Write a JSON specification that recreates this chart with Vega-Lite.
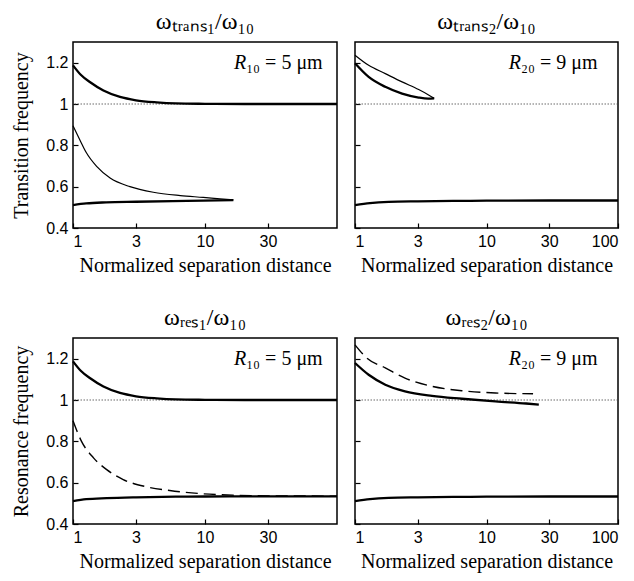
{
  "$schema": "https://vega.github.io/schema/vega-lite/v6.json",
  "background": "white",
  "autosize": {"type": "none"},
  "padding": {"left": 73, "top": 42, "right": 561, "bottom": 539},
  "bounds": "flush",
  "columns": 2,
  "spacing": {"row": 110, "column": 18},
  "config": {
    "view": {"stroke": "black", "strokeWidth": 1.5},
    "axis": {"domain": false, "grid": false, "labelFont": "Liberation Sans", "labelFontSize": 16, "labelColor": "black", "titleFont": "Liberation Serif", "titleFontSize": 20, "titleFontWeight": "normal", "titleColor": "black", "tickColor": "black", "tickSize": -5, "tickWidth": 1.2, "labelPadding": 10},
    "axisX": {"titlePadding": 6, "titleFont": "Liberation Serif"},
    "axisY": {"titlePadding": 14, "titleFont": "Liberation Serif"},
    "title": {"font": "Liberation Serif", "fontSize": 24, "fontWeight": "normal", "color": "black", "offset": 8},
    "line": {"color": "black"}
  },
  "datasets": {
    "p1": [
      {"x": 1, "y": 1.187, "s": "u"}, {"x": 1.15, "y": 1.14, "s": "u"}, {"x": 1.35, "y": 1.105, "s": "u"}, {"x": 1.7, "y": 1.065, "s": "u"}, {"x": 2.27, "y": 1.034, "s": "u"}, {"x": 3, "y": 1.018, "s": "u"}, {"x": 4.3, "y": 1.008, "s": "u"}, {"x": 6, "y": 1.003, "s": "u"}, {"x": 10, "y": 1.001, "s": "u"}, {"x": 20, "y": 1.0, "s": "u"}, {"x": 50, "y": 1.0, "s": "u"}, {"x": 100, "y": 1.0, "s": "u"},
      {"x": 1, "y": 0.895, "s": "m"}, {"x": 1.13, "y": 0.825, "s": "m"}, {"x": 1.26, "y": 0.765, "s": "m"}, {"x": 1.51, "y": 0.698, "s": "m"}, {"x": 1.91, "y": 0.642, "s": "m"}, {"x": 2.7, "y": 0.6, "s": "m"}, {"x": 4.06, "y": 0.573, "s": "m"}, {"x": 6.5, "y": 0.557, "s": "m"}, {"x": 9.7, "y": 0.548, "s": "m"}, {"x": 13, "y": 0.541, "s": "m"}, {"x": 16.4, "y": 0.536, "s": "m"},
      {"x": 1, "y": 0.511, "s": "l"}, {"x": 1.26, "y": 0.519, "s": "l"}, {"x": 1.78, "y": 0.524, "s": "l"}, {"x": 3, "y": 0.527, "s": "l"}, {"x": 5.7, "y": 0.53, "s": "l"}, {"x": 9.7, "y": 0.532, "s": "l"}, {"x": 16.4, "y": 0.535, "s": "l"}
    ],
    "p2": [
      {"x": 1, "y": 1.236, "s": "m"}, {"x": 1.27, "y": 1.187, "s": "m"}, {"x": 1.7, "y": 1.147, "s": "m"}, {"x": 2.28, "y": 1.107, "s": "m"}, {"x": 3.05, "y": 1.07, "s": "m"}, {"x": 3.6, "y": 1.045, "s": "m"}, {"x": 4.0, "y": 1.027, "s": "m"},
      {"x": 1, "y": 1.197, "s": "u"}, {"x": 1.27, "y": 1.131, "s": "u"}, {"x": 1.7, "y": 1.083, "s": "u"}, {"x": 2.28, "y": 1.05, "s": "u"}, {"x": 3.05, "y": 1.031, "s": "u"}, {"x": 3.6, "y": 1.026, "s": "u"}, {"x": 4.0, "y": 1.027, "s": "u"},
      {"x": 1, "y": 0.511, "s": "l"}, {"x": 1.3, "y": 0.52, "s": "l"}, {"x": 1.8, "y": 0.526, "s": "l"}, {"x": 3, "y": 0.529, "s": "l"}, {"x": 6, "y": 0.531, "s": "l"}, {"x": 10, "y": 0.532, "s": "l"}, {"x": 30, "y": 0.533, "s": "l"}, {"x": 100, "y": 0.533, "s": "l"}
    ],
    "p3": [
      {"x": 1, "y": 1.187, "s": "u"}, {"x": 1.15, "y": 1.14, "s": "u"}, {"x": 1.35, "y": 1.105, "s": "u"}, {"x": 1.7, "y": 1.065, "s": "u"}, {"x": 2.27, "y": 1.034, "s": "u"}, {"x": 3, "y": 1.018, "s": "u"}, {"x": 4.3, "y": 1.008, "s": "u"}, {"x": 6, "y": 1.003, "s": "u"}, {"x": 10, "y": 1.001, "s": "u"}, {"x": 20, "y": 1.0, "s": "u"}, {"x": 50, "y": 1.0, "s": "u"}, {"x": 100, "y": 1.0, "s": "u"},
      {"x": 1, "y": 0.9, "s": "d"}, {"x": 1.16, "y": 0.8, "s": "d"}, {"x": 1.43, "y": 0.72, "s": "d"}, {"x": 1.8, "y": 0.663, "s": "d"}, {"x": 2.4, "y": 0.615, "s": "d"}, {"x": 3.6, "y": 0.58, "s": "d"}, {"x": 5.4, "y": 0.562, "s": "d"}, {"x": 9.7, "y": 0.546, "s": "d"}, {"x": 17.4, "y": 0.539, "s": "d"}, {"x": 31, "y": 0.536, "s": "d"}, {"x": 100, "y": 0.535, "s": "d"},
      {"x": 1, "y": 0.511, "s": "l"}, {"x": 1.26, "y": 0.52, "s": "l"}, {"x": 1.8, "y": 0.525, "s": "l"}, {"x": 3, "y": 0.529, "s": "l"}, {"x": 6, "y": 0.532, "s": "l"}, {"x": 10, "y": 0.533, "s": "l"}, {"x": 30, "y": 0.534, "s": "l"}, {"x": 100, "y": 0.534, "s": "l"}
    ],
    "p4": [
      {"x": 1, "y": 1.267, "s": "d"}, {"x": 1.23, "y": 1.203, "s": "d"}, {"x": 1.7, "y": 1.155, "s": "d"}, {"x": 2.4, "y": 1.106, "s": "d"}, {"x": 3.85, "y": 1.066, "s": "d"}, {"x": 6.5, "y": 1.045, "s": "d"}, {"x": 11.7, "y": 1.034, "s": "d"}, {"x": 22.6, "y": 1.03, "s": "d"},
      {"x": 1, "y": 1.179, "s": "u"}, {"x": 1.27, "y": 1.122, "s": "u"}, {"x": 1.7, "y": 1.074, "s": "u"}, {"x": 2.4, "y": 1.042, "s": "u"}, {"x": 3.85, "y": 1.02, "s": "u"}, {"x": 6.5, "y": 1.006, "s": "u"}, {"x": 11.7, "y": 0.993, "s": "u"}, {"x": 20, "y": 0.983, "s": "u"}, {"x": 25, "y": 0.978, "s": "u"},
      {"x": 1, "y": 0.511, "s": "l"}, {"x": 1.3, "y": 0.52, "s": "l"}, {"x": 1.8, "y": 0.526, "s": "l"}, {"x": 3, "y": 0.529, "s": "l"}, {"x": 6, "y": 0.531, "s": "l"}, {"x": 10, "y": 0.532, "s": "l"}, {"x": 30, "y": 0.533, "s": "l"}, {"x": 100, "y": 0.533, "s": "l"}
    ]
  },
  "concat": [
    {
      "title": "ωₜᵣₐₙₛ₁/ω₁₀",
      "width": 264, "height": 186,
      "data": {"name": "p1"},
      "layer": [
        {"data": {"values": [{}]}, "mark": {"type": "rule", "strokeDash": [1.5, 1.5], "color": "#444", "strokeWidth": 0.8}, "encoding": {"y": {"datum": 1, "type": "quantitative"}}},
        {"transform": [{"filter": "datum.s == 'u' || datum.s == 'l'"}], "mark": {"type": "line", "strokeWidth": 2.3, "interpolate": "monotone"},
         "encoding": {
           "x": {"field": "x", "type": "quantitative", "scale": {"type": "log", "domain": [1, 100], "nice": false}, "axis": {"values": [1, 3, 10, 30], "format": "d", "title": "Normalized separation distance"}},
           "y": {"field": "y", "type": "quantitative", "scale": {"domain": [0.4, 1.3], "nice": false, "zero": false}, "axis": {"values": [0.4, 0.5, 0.6, 0.7, 0.8, 0.9, 1.0, 1.1, 1.2], "labelExpr": "round(datum.value*10) % 2 == 0 ? (datum.value == 1 ? '1' : format(datum.value, '.1f')) : ''", "title": "Transition frequency"}},
           "detail": {"field": "s"}}},
        {"transform": [{"filter": "datum.s == 'm'"}], "mark": {"type": "line", "strokeWidth": 1.2, "interpolate": "monotone"},
         "encoding": {"x": {"field": "x", "type": "quantitative"}, "y": {"field": "y", "type": "quantitative"}}},
        {"data": {"values": [{}]}, "mark": {"type": "text", "font": "Liberation Serif", "fontSize": 20, "fontStyle": "italic", "align": "right", "baseline": "middle"}, "encoding": {"x": {"datum": 20.5, "type": "quantitative"}, "y": {"datum": 1.2, "type": "quantitative"}, "text": {"value": "R"}}},
        {"data": {"values": [{}]}, "mark": {"type": "text", "font": "Liberation Serif", "fontSize": 20, "align": "left", "baseline": "middle"}, "encoding": {"x": {"datum": 20.5, "type": "quantitative"}, "y": {"datum": 1.2, "type": "quantitative"}, "text": {"value": "₁₀ = 5 μm"}}}
      ]
    },
    {
      "title": "ωₜᵣₐₙₛ₂/ω₁₀",
      "width": 263, "height": 186,
      "data": {"name": "p2"},
      "layer": [
        {"data": {"values": [{}]}, "mark": {"type": "rule", "strokeDash": [1.5, 1.5], "color": "#444", "strokeWidth": 0.8}, "encoding": {"y": {"datum": 1, "type": "quantitative"}}},
        {"transform": [{"filter": "datum.s == 'u' || datum.s == 'l'"}], "mark": {"type": "line", "strokeWidth": 2.3, "interpolate": "monotone"},
         "encoding": {
           "x": {"field": "x", "type": "quantitative", "scale": {"type": "log", "domain": [1, 100], "nice": false}, "axis": {"values": [1, 3, 10, 30, 100], "format": "d", "title": "Normalized separation distance"}},
           "y": {"field": "y", "type": "quantitative", "scale": {"domain": [0.4, 1.3], "nice": false, "zero": false}, "axis": {"values": [0.4, 0.5, 0.6, 0.7, 0.8, 0.9, 1.0, 1.1, 1.2], "labels": false, "title": null}},
           "detail": {"field": "s"}}},
        {"transform": [{"filter": "datum.s == 'm'"}], "mark": {"type": "line", "strokeWidth": 1.2, "interpolate": "monotone"},
         "encoding": {"x": {"field": "x", "type": "quantitative"}, "y": {"field": "y", "type": "quantitative"}}},
        {"data": {"values": [{}]}, "mark": {"type": "text", "font": "Liberation Serif", "fontSize": 20, "fontStyle": "italic", "align": "right", "baseline": "middle"}, "encoding": {"x": {"datum": 18.3, "type": "quantitative"}, "y": {"datum": 1.2, "type": "quantitative"}, "text": {"value": "R"}}},
        {"data": {"values": [{}]}, "mark": {"type": "text", "font": "Liberation Serif", "fontSize": 20, "align": "left", "baseline": "middle"}, "encoding": {"x": {"datum": 18.3, "type": "quantitative"}, "y": {"datum": 1.2, "type": "quantitative"}, "text": {"value": "₂₀ = 9  μm"}}}
      ]
    },
    {
      "title": "ωᵣₑₛ₁/ω₁₀",
      "width": 264, "height": 186,
      "data": {"name": "p3"},
      "layer": [
        {"data": {"values": [{}]}, "mark": {"type": "rule", "strokeDash": [1.5, 1.5], "color": "#444", "strokeWidth": 0.8}, "encoding": {"y": {"datum": 1, "type": "quantitative"}}},
        {"transform": [{"filter": "datum.s == 'u' || datum.s == 'l'"}], "mark": {"type": "line", "strokeWidth": 2.3, "interpolate": "monotone"},
         "encoding": {
           "x": {"field": "x", "type": "quantitative", "scale": {"type": "log", "domain": [1, 100], "nice": false}, "axis": {"values": [1, 3, 10, 30], "format": "d", "title": "Normalized separation distance"}},
           "y": {"field": "y", "type": "quantitative", "scale": {"domain": [0.4, 1.3], "nice": false, "zero": false}, "axis": {"values": [0.4, 0.5, 0.6, 0.7, 0.8, 0.9, 1.0, 1.1, 1.2], "labelExpr": "round(datum.value*10) % 2 == 0 ? (datum.value == 1 ? '1' : format(datum.value, '.1f')) : ''", "title": "Resonance frequency"}},
           "detail": {"field": "s"}}},
        {"transform": [{"filter": "datum.s == 'd'"}], "mark": {"type": "line", "strokeWidth": 1.4, "strokeDash": [12, 6], "interpolate": "monotone"},
         "encoding": {"x": {"field": "x", "type": "quantitative"}, "y": {"field": "y", "type": "quantitative"}}},
        {"data": {"values": [{}]}, "mark": {"type": "text", "font": "Liberation Serif", "fontSize": 20, "fontStyle": "italic", "align": "right", "baseline": "middle"}, "encoding": {"x": {"datum": 20.5, "type": "quantitative"}, "y": {"datum": 1.2, "type": "quantitative"}, "text": {"value": "R"}}},
        {"data": {"values": [{}]}, "mark": {"type": "text", "font": "Liberation Serif", "fontSize": 20, "align": "left", "baseline": "middle"}, "encoding": {"x": {"datum": 20.5, "type": "quantitative"}, "y": {"datum": 1.2, "type": "quantitative"}, "text": {"value": "₁₀ = 5 μm"}}}
      ]
    },
    {
      "title": "ωᵣₑₛ₂/ω₁₀",
      "width": 263, "height": 186,
      "data": {"name": "p4"},
      "layer": [
        {"data": {"values": [{}]}, "mark": {"type": "rule", "strokeDash": [1.5, 1.5], "color": "#444", "strokeWidth": 0.8}, "encoding": {"y": {"datum": 1, "type": "quantitative"}}},
        {"transform": [{"filter": "datum.s == 'u' || datum.s == 'l'"}], "mark": {"type": "line", "strokeWidth": 2.3, "interpolate": "monotone"},
         "encoding": {
           "x": {"field": "x", "type": "quantitative", "scale": {"type": "log", "domain": [1, 100], "nice": false}, "axis": {"values": [1, 3, 10, 30, 100], "format": "d", "title": "Normalized separation distance"}},
           "y": {"field": "y", "type": "quantitative", "scale": {"domain": [0.4, 1.3], "nice": false, "zero": false}, "axis": {"values": [0.4, 0.5, 0.6, 0.7, 0.8, 0.9, 1.0, 1.1, 1.2], "labels": false, "title": null}},
           "detail": {"field": "s"}}},
        {"transform": [{"filter": "datum.s == 'd'"}], "mark": {"type": "line", "strokeWidth": 1.4, "strokeDash": [12, 6], "interpolate": "monotone"},
         "encoding": {"x": {"field": "x", "type": "quantitative"}, "y": {"field": "y", "type": "quantitative"}}},
        {"data": {"values": [{}]}, "mark": {"type": "text", "font": "Liberation Serif", "fontSize": 20, "fontStyle": "italic", "align": "right", "baseline": "middle"}, "encoding": {"x": {"datum": 18.3, "type": "quantitative"}, "y": {"datum": 1.2, "type": "quantitative"}, "text": {"value": "R"}}},
        {"data": {"values": [{}]}, "mark": {"type": "text", "font": "Liberation Serif", "fontSize": 20, "align": "left", "baseline": "middle"}, "encoding": {"x": {"datum": 18.3, "type": "quantitative"}, "y": {"datum": 1.2, "type": "quantitative"}, "text": {"value": "₂₀ = 9  μm"}}}
      ]
    }
  ]
}
